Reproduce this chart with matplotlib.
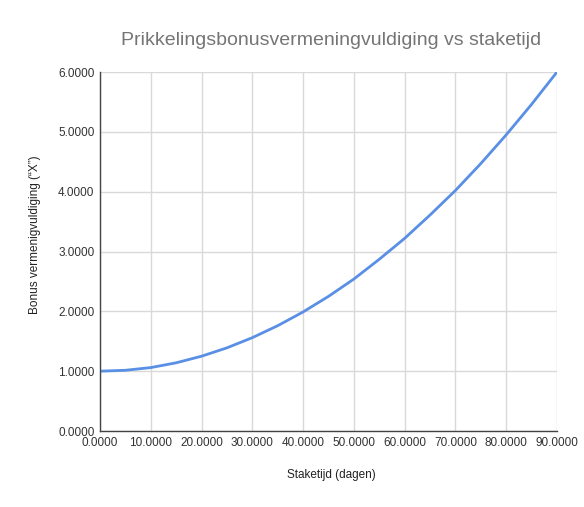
import matplotlib
matplotlib.use("Agg")
import matplotlib.pyplot as plt

# staketijd (dagen) vs bonus vermenigvuldiging
dagen = [0, 5, 10, 15, 20, 25, 30, 35, 40, 45, 50, 55, 60, 65, 70, 75, 80, 85, 90]
bonus = [1.0, 1.015, 1.06, 1.14, 1.25, 1.39, 1.56, 1.76, 1.99, 2.25, 2.54,
         2.87, 3.22, 3.61, 4.02, 4.47, 4.95, 5.46, 6.0]

x_ticks = [0, 10, 20, 30, 40, 50, 60, 70, 80, 90]
y_ticks = [0, 1, 2, 3, 4, 5, 6]

plt.rcParams['font.family'] = ['Liberation Sans', 'DejaVu Sans']

fig = plt.figure(figsize=(5.84, 5.07), dpi=100)
ax = fig.add_axes([0.1712, 0.1499, 0.7825, 0.708])

ax.plot(dagen, bonus, color='#5a8fe6', lw=2, solid_joinstyle='round')

ax.set_xlim(0, 90)
ax.set_ylim(0, 6)
ax.set_xticks(x_ticks)
ax.set_yticks(y_ticks)
ax.set_xticklabels(['%.4f' % v for v in x_ticks])
ax.set_yticklabels(['%.4f' % v for v in y_ticks])
ax.tick_params(length=0, labelsize=8.5, colors='#333333', pad=4)
ax.grid(True, color='#d9d9d9', lw=1)
ax.set_axisbelow(True)

for s in ['top', 'right']:
    ax.spines[s].set_visible(False)
for s in ['left', 'bottom']:
    ax.spines[s].set_color('#444444')
    ax.spines[s].set_linewidth(1)

fig.text(0.567, 0.921, 'Prikkelingsbonusvermeningvuldiging vs staketijd',
         ha='center', va='center', fontsize=14, color='#757575')
fig.text(0.567, 0.063, 'Staketijd (dagen)', ha='center', va='center',
         fontsize=8.5, color='#222222')
fig.text(0.06, 0.538, 'Bonus vermenigvuldiging (\u201cX\u201d)', ha='center',
         va='center', rotation=90, fontsize=8.5, color='#222222')

fig.savefig('out.png', dpi=100)
